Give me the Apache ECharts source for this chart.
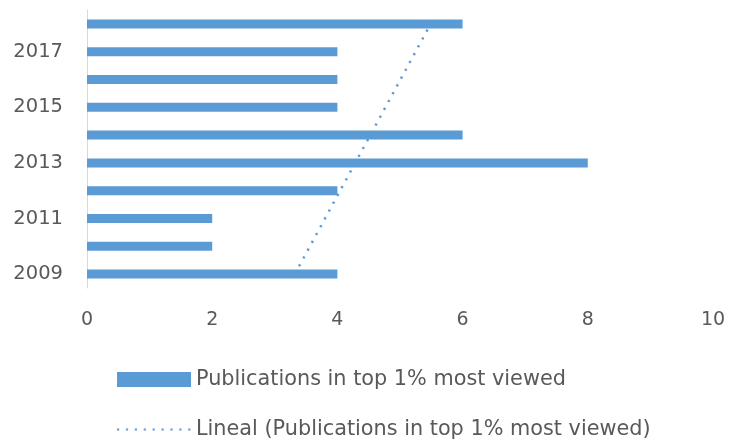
<!DOCTYPE html>
<html><head><meta charset="utf-8">
<script src="https://cdn.jsdelivr.net/npm/echarts@6/dist/echarts.min.js"></script>
<style>html,body{margin:0;padding:0;background:#fff}#c{width:729px;height:439px}</style>
</head><body><div id="c"></div>
<script>
var years = ['2009','2010','2011','2012','2013','2014','2015','2016','2017','2018'];
var publications = [4, 2, 2, 4, 8, 6, 4, 4, 4, 6];
var trendline = [3.32, null, null, null, null, null, null, null, null, 5.49];
var xTicks = [0, 2, 4, 6, 8, 10];
var seriesName = 'Publications in top 1% most viewed';
var trendName = 'Lineal (Publications in top 1% most viewed)';

var chart = echarts.init(document.getElementById('c'));
var txt = '#595959';
var ff = 'DejaVu Sans';
chart.setOption({
  animation: false,
  textStyle: {fontFamily: ff},
  grid: {left: 87, right: 16, top: 10, bottom: 151, containLabel: false},
  xAxis: {
    type: 'value', min: xTicks[0], max: xTicks[xTicks.length - 1], interval: 2,
    axisLine: {show: false}, axisTick: {show: false}, splitLine: {show: false},
    axisLabel: {color: txt, fontSize: 19, margin: 23, fontFamily: ff}
  },
  yAxis: {
    type: 'category', data: years,
    axisLine: {show: true, lineStyle: {color: '#d9d9d9', width: 1}},
    axisTick: {show: false},
    axisLabel: {color: txt, fontSize: 19.5, margin: 24, interval: 1, fontFamily: ff}
  },
  legend: {
    orient: 'vertical', left: 111, top: 364, height: 74,
    itemWidth: 74, itemHeight: 15, itemGap: 29,
    textStyle: {color: txt, fontSize: 20.8, lineHeight: 21, fontFamily: ff},
    data: [{name: seriesName, icon: 'rect'}, {name: trendName, itemStyle: {opacity: 0}}]
  },
  series: [
    {name: seriesName, type: 'bar', data: publications, barWidth: 9,
     itemStyle: {color: '#5b9bd5'}},
    {name: trendName, type: 'line', data: trendline, connectNulls: true,
     symbol: 'none', z: 3,
     lineStyle: {color: '#5b9bd5', width: 2.5, type: [2.2, 6.7], cap: 'butt'}}
  ]
});
</script></body></html>
